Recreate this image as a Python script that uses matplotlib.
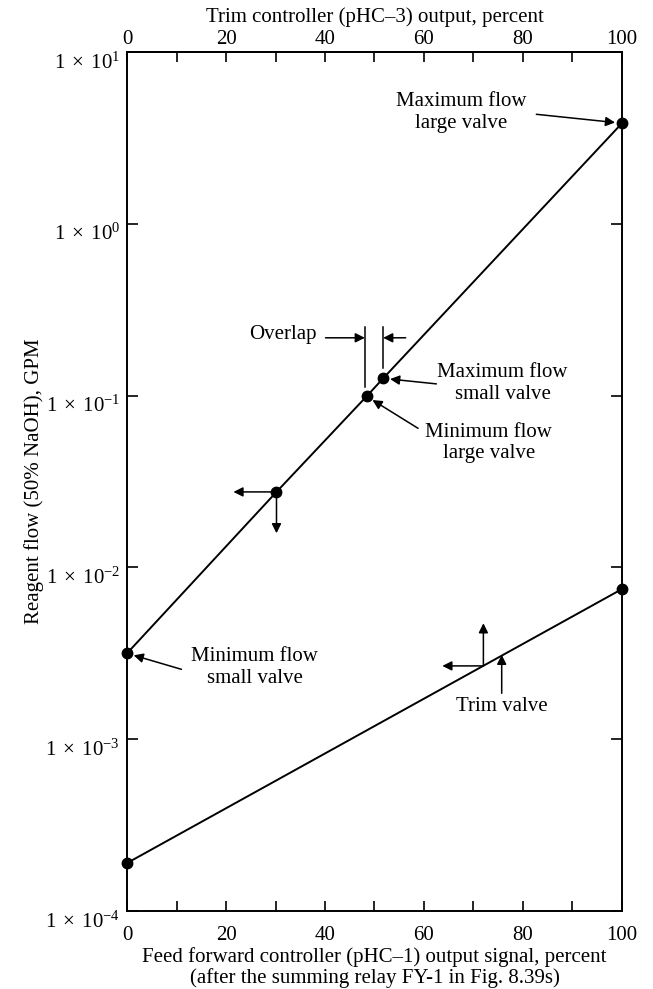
import numpy as np
import matplotlib
matplotlib.use('Agg')
import matplotlib.pyplot as plt
from matplotlib.ticker import FixedLocator, FuncFormatter, NullLocator
from matplotlib.transforms import ScaledTranslation

plt.rcParams['font.family'] = ['Liberation Serif', 'DejaVu Serif']
plt.rcParams['mathtext.fontset'] = 'custom'
plt.rcParams['mathtext.rm'] = 'Liberation Serif'
plt.rcParams['mathtext.it'] = 'Liberation Serif:italic'
plt.rcParams['font.size'] = 15

# large/small valve line (feed forward controller output, percent vs GPM)
valve_x = [0, 30.2, 48.4, 51.75, 100]
valve_y = [3.16e-3, 0.0275, 0.099, 0.126, 3.85]

# trim valve line
trim_x = [0, 100]
trim_y = [1.9e-4, 7.48e-3]

# point on trim line where the arrows meet
trim_mark = (72, 2.67e-3)

x_ticks = np.arange(0, 101, 10)
x_labels = [0, 20, 40, 60, 80, 100]
y_ticks = [1e-4, 1e-3, 1e-2, 1e-1, 1e0, 1e1]

fig = plt.figure(figsize=(6.53, 9.89), dpi=100)
ax = fig.add_axes([0.1945, 0.0789, 0.758, 0.8685])

ax.set_yscale('log')
ax.set_xlim(0, 100)
ax.set_ylim(1e-4, 1e1)

ax.plot(valve_x, valve_y, color='k', lw=1.4, clip_on=False)
ax.plot(trim_x, trim_y, color='k', lw=1.4, clip_on=False)
ax.plot(valve_x, valve_y, 'o', color='k', ms=7.5, clip_on=False, zorder=5)
ax.plot(trim_x, trim_y, 'o', color='k', ms=7.5, clip_on=False, zorder=5)

# axes and ticks
for s in ax.spines.values():
    s.set_linewidth(1.4)
xfmt = FuncFormatter(lambda v, p: '%d' % v if v in x_labels else '')
ax.xaxis.set_major_locator(FixedLocator(x_ticks))
ax.xaxis.set_major_formatter(xfmt)
ax.yaxis.set_major_locator(FixedLocator(y_ticks))
ax.yaxis.set_minor_locator(NullLocator())
ax.yaxis.set_major_formatter(FuncFormatter(lambda v, p: r'$1\;\times\;10^{%d}$' % round(np.log10(v))))
ax.tick_params(axis='x', direction='in', length=7, width=1.2, pad=11)
ax.tick_params(axis='y', direction='in', length=8, width=1.2, right=True, pad=5)
shift = ScaledTranslation(0, -6 / 72, fig.dpi_scale_trans)
for lab in ax.get_yticklabels():
    lab.set_transform(lab.get_transform() + shift)

ax.set_xlabel('Feed forward controller (pHC\u20131) output signal, percent\n'
              '(after the summing relay FY-1 in Fig. 8.39s)', labelpad=1, linespacing=1.1)
ax.set_ylabel('Reagent flow (50% NaOH), GPM', labelpad=1)

top = ax.secondary_xaxis('top')
top.xaxis.set_major_locator(FixedLocator(x_ticks))
top.xaxis.set_major_formatter(xfmt)
top.tick_params(axis='x', direction='in', length=7, width=1.2, pad=2)
top.spines['top'].set_linewidth(1.4)
top.set_xlabel('Trim controller (pHC\u20133) output, percent', labelpad=6)

arr = dict(arrowstyle='-|>', color='k', lw=1.1, mutation_scale=14, shrinkA=0, shrinkB=0)
arr_dot = dict(arr, shrinkB=5)

# labelled points
ax.annotate('', xy=(valve_x[4], valve_y[4]), xytext=(82.7, 4.34), arrowprops=arr_dot)
ax.text(67.6, 4.44, 'Maximum flow\nlarge valve', ha='center', va='center', linespacing=1.2)

ax.annotate('', xy=(valve_x[3], valve_y[3]), xytext=(62.5, 0.117), arrowprops=arr_dot)
ax.text(75.9, 0.118, 'Maximum flow\nsmall valve', ha='center', va='center', linespacing=1.2)

ax.annotate('', xy=(valve_x[2], valve_y[2]), xytext=(58.8, 0.0645), arrowprops=arr_dot)
ax.text(73.1, 0.053, 'Minimum flow\nlarge valve', ha='center', va='center', linespacing=1.2)

ax.annotate('', xy=(valve_x[0], valve_y[0]), xytext=(11.0, 2.55e-3), arrowprops=arr_dot)
ax.text(25.8, 2.6e-3, 'Minimum flow\nsmall valve', ha='center', va='center', linespacing=1.2)

# overlap marks
ax.plot([48.05, 48.05], [0.1127, 0.252], color='k', lw=1.1)
ax.plot([valve_x[3], valve_x[3]], [0.144, 0.252], color='k', lw=1.1)
ax.annotate('', xy=(48.05, 0.217), xytext=(40.1, 0.217), arrowprops=arr)
ax.annotate('', xy=(valve_x[3], 0.217), xytext=(56.3, 0.217), arrowprops=arr)
ax.text(38.4, 0.2254, 'Overlap', ha='right', va='center')

# reading arrows on the valve line
ax.annotate('', xy=(21.5, valve_y[1]), xytext=(valve_x[1], valve_y[1]), arrowprops=arr)
ax.annotate('', xy=(valve_x[1], 0.0158), xytext=(valve_x[1], valve_y[1]), arrowprops=arr)

# reading arrows on the trim line
ax.annotate('', xy=(trim_mark[0], 4.73e-3), xytext=trim_mark, arrowprops=arr)
ax.annotate('', xy=(63.7, trim_mark[1]), xytext=trim_mark, arrowprops=arr)
ax.annotate('', xy=(75.7, 3.1e-3), xytext=(75.7, 1.85e-3), arrowprops=arr)
ax.text(75.7, 1.545e-3, 'Trim valve', ha='center', va='center')

fig.savefig('out.png', dpi=100)
